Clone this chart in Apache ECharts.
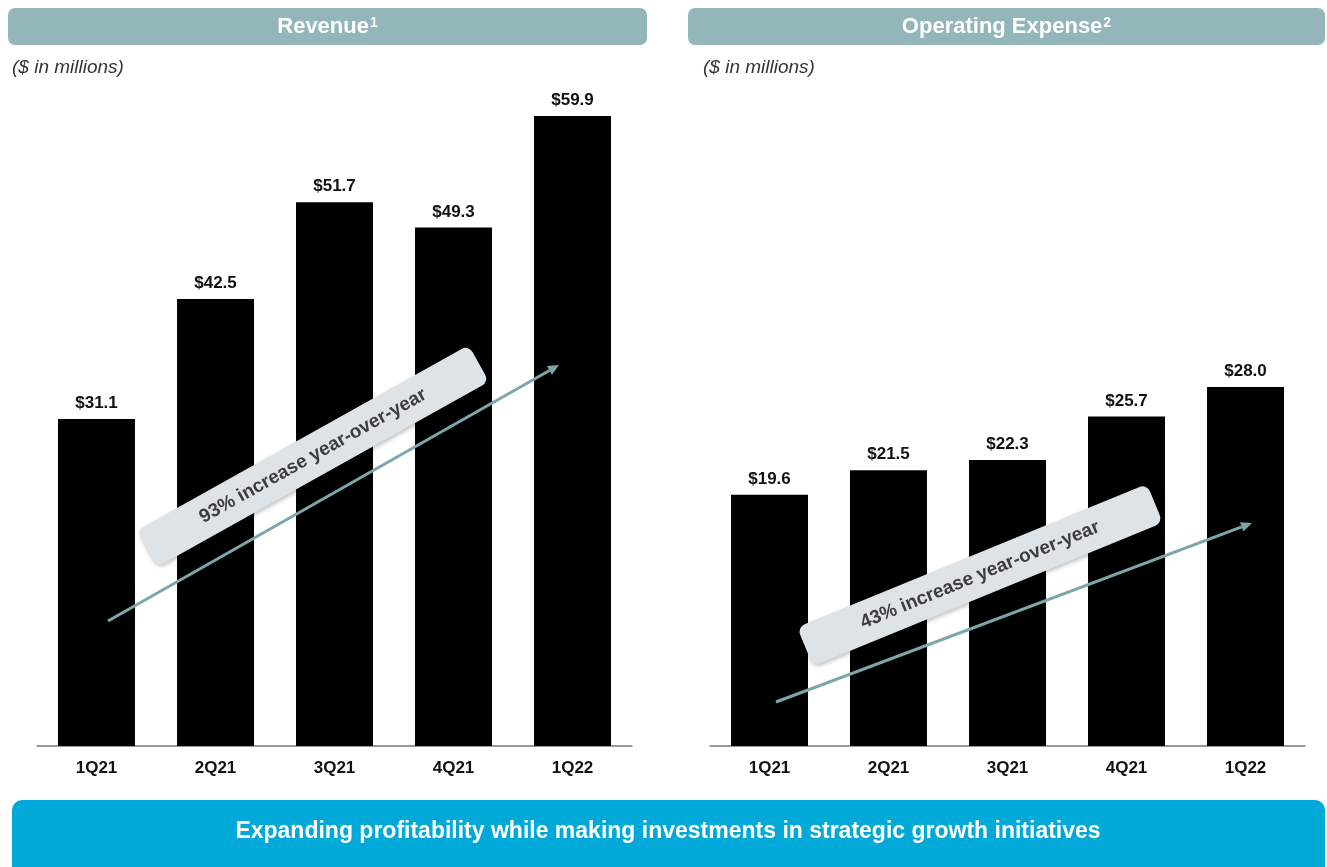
<!DOCTYPE html>
<html>
<head>
<meta charset="utf-8">
<script src="https://cdn.jsdelivr.net/npm/echarts@6/dist/echarts.min.js"></script>
<style>
html,body{margin:0;padding:0;background:#fff;}
#chart{width:1327px;height:867px;}
</style>
</head>
<body>
<div id="chart"></div>
<script>
const categories = ['1Q21', '2Q21', '3Q21', '4Q21', '1Q22'];
const revenue = [31.1, 42.5, 51.7, 49.3, 59.9];
const opex = [19.6, 21.5, 22.3, 25.7, 28.0];
const revenueTitle = 'Revenue';
const opexTitle = 'Operating Expense';
const unitsNote = '($ in millions)';
const revenueCallout = '93% increase year-over-year';
const opexCallout = '43% increase year-over-year';
const bannerText = 'Expanding profitability while making investments in strategic growth initiatives';

const FONT = '"Liberation Sans", Arial, Helvetica, sans-serif';
const chart = echarts.init(document.getElementById('chart'), null, {renderer: 'canvas'});

function headerBar(x, w, title, sup) {
  return {
    type: 'group',
    children: [
      {type: 'rect', z: 100, shape: {x: x, y: 8, width: w, height: 37, r: 7}, style: {fill: '#93b6bb'}},
      {type: 'text', z: 101, x: x + w / 2, y: 27,
        style: {text: '{a|' + title + '}{s|' + sup + '}', textAlign: 'center', textVerticalAlign: 'middle',
          rich: {a: {fontFamily: FONT, fontWeight: 'bold', fontSize: 22, fill: '#fff', color: '#fff'},
                 s: {fontFamily: FONT, fontWeight: 'bold', fontSize: 14, fill: '#fff', color: '#fff', verticalAlign: 'top', padding: [0, 0, 8, 1]}}}}
    ]
  };
}

function callout(cx, cy, w, h, angleDeg, text) {
  return {
    type: 'group', x: cx, y: cy, rotation: angleDeg * Math.PI / 180,
    children: [
      {type: 'rect', z: 110, shape: {x: -w / 2, y: -h / 2, width: w, height: h, r: 8},
        style: {fill: '#dde3e6', shadowBlur: 4, shadowColor: 'rgba(0,0,0,0.25)', shadowOffsetX: 1, shadowOffsetY: 2}},
      {type: 'text', z: 111, x: 0, y: 0,
        style: {text: text, textAlign: 'center', textVerticalAlign: 'middle', fontFamily: FONT, fontWeight: 'bold', fontSize: 19, fill: '#3d3d3d'}}
    ]
  };
}

function arrow(x1, y1, x2, y2) {
  const ang = Math.atan2(y2 - y1, x2 - x1);
  const L = 11, W = 5;
  const bx = x2 - L * Math.cos(ang), by = y2 - L * Math.sin(ang);
  const px = -Math.sin(ang) * W, py = Math.cos(ang) * W;
  return {
    type: 'group',
    children: [
      {type: 'line', z: 105, shape: {x1: x1, y1: y1, x2: bx, y2: by}, style: {stroke: '#7da6aa', lineWidth: 3}},
      {type: 'polygon', z: 105, shape: {points: [[x2, y2], [bx + px, by + py], [bx - px, by - py]]}, style: {fill: '#7da6aa'}}
    ]
  };
}

const labelStyle = {
  show: true, position: 'top', distance: 7, color: '#111', fontFamily: FONT, fontWeight: 'bold', fontSize: 17,
  formatter: p => '$' + p.value.toFixed(1)
};

function xAxis(idx) {
  return {
    type: 'category', gridIndex: idx, data: categories,
    axisLine: {lineStyle: {color: '#7a7a7a', width: 1.5}},
    axisTick: {show: false},
    axisLabel: {color: '#111', fontFamily: FONT, fontWeight: 'bold', fontSize: 17, margin: 14}
  };
}

const option = {
  animation: false,
  backgroundColor: '#fff',
  grid: [
    {left: 37, width: 595, top: 115, bottom: 121},
    {left: 710, width: 595, top: 115, bottom: 121}
  ],
  xAxis: [xAxis(0), xAxis(1)],
  yAxis: [
    {type: 'value', gridIndex: 0, min: 0, max: 60, show: false, splitLine: {show: false}},
    {type: 'value', gridIndex: 1, min: 0, max: 49.2, show: false, splitLine: {show: false}}
  ],
  series: [
    {type: 'bar', xAxisIndex: 0, yAxisIndex: 0, data: revenue, barWidth: 77, itemStyle: {color: '#000'}, label: labelStyle},
    {type: 'bar', xAxisIndex: 1, yAxisIndex: 1, data: opex, barWidth: 77, itemStyle: {color: '#000'}, label: labelStyle}
  ],
  graphic: {
    zlevel: 1,
    elements: [
      headerBar(8, 639, revenueTitle, '1'),
      headerBar(688, 637, opexTitle, '2'),
      {type: 'text', x: 12, y: 68, z: 100, style: {text: unitsNote, textVerticalAlign: 'middle', fontFamily: FONT, fontStyle: 'italic', fontSize: 19, fill: '#333'}},
      {type: 'text', x: 703, y: 68, z: 100, style: {text: unitsNote, textVerticalAlign: 'middle', fontFamily: FONT, fontStyle: 'italic', fontSize: 19, fill: '#333'}},
      arrow(108, 621, 559, 365),
      arrow(776, 702, 1252, 523),
      callout(313, 456, 380, 42, 29.2, revenueCallout),
      callout(980, 575, 378, 42, 22.3, opexCallout),
      {type: 'group', children: [
        {type: 'rect', z: 100, shape: {x: 12, y: 800, width: 1313, height: 80, r: 10}, style: {fill: '#00a9d8'}},
        {type: 'text', z: 101, x: 668, y: 832, style: {text: bannerText, textAlign: 'center', textVerticalAlign: 'middle', fontFamily: FONT, fontWeight: 'bold', fontSize: 23, fill: '#fff'}}
      ]}
    ]
  }
};
chart.setOption(option);
</script>
</body>
</html>
